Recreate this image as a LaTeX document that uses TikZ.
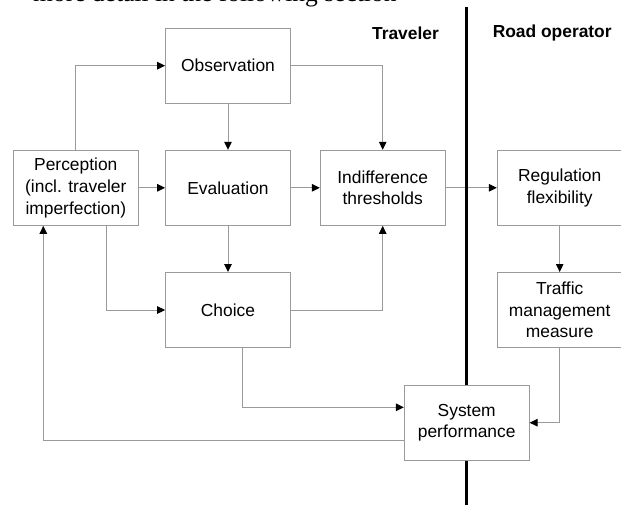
\documentclass[tikz,border=0pt]{standalone}
\usepackage{fontspec}
\setmainfont{Liberation Sans}
\newfontfamily\bodyserif{Liberation Serif}
\usetikzlibrary{arrows.meta}
\definecolor{linegray}{HTML}{9A9A9A}
\tikzset{
  box/.style={draw=linegray, line width=1pt, fill=white, minimum width=124.7pt, minimum height=75pt,
    inner sep=2pt, align=center, font=\fontsize{17.4}{21.7}\selectfont},
  head/.style={font=\fontsize{17.4}{21.7}\selectfont\bfseries, inner sep=0pt},
  conn/.style={draw=linegray, line width=1pt, -{Triangle[length=8pt,width=7.5pt,color=black]}},
  divider/.style={draw=black, line width=3pt}
}
\begin{document}
\begin{tikzpicture}[x=1pt,y=-1pt]
\useasboundingbox (0,0) rectangle (621,504);
% body text line above the figure, mostly cut off by the top edge
\node[anchor=north west, inner sep=0pt, font=\bodyserif\fontsize{25.5}{30}\selectfont] (bodytext) at (33,-16.6) {more detail in the following section};
% nodes
\node[box] (obs) at (228,65.7) {Observation};
\node[box] (perc) at (75.8,187.8) {Perception\\(incl. traveler\\imperfection)};
\node[box] (eval) at (228,187.8) {Evaluation};
\node[box] (ind) at (382.7,187.8) {Indifference\\thresholds};
\node[box] (choice) at (228,310) {Choice};
\node[box] (reg) at (559.7,187.8) {Regulation\\flexibility};
\node[box] (traf) at (559.7,310) {Traffic\\management\\measure};
\node[head] (trav) at (405.5,33.3) {Traveler};
\node[head] (road) at (552.2,33.3) {Road operator};
% connectors
\draw[conn] (perc.north) |- (obs.west);
\draw[conn] (perc.east) -- (eval.west);
\draw[conn] (obs.south) -- (eval.north);
\draw[conn] (obs.east) -| (ind.north);
\draw[conn] (eval.east) -- (ind.west);
\draw[conn] (eval.south) -- (choice.north);
\draw[conn] ([xshift=30.2pt]perc.south) |- (choice.west);
\draw[conn] (choice.east) -| (ind.south);
\draw[conn] (ind.east) -- (reg.west);
\draw[conn] (reg.south) -- (traf.north);
% divider
\coordinate (dtop) at (466.7,6.7);
\coordinate (dbot) at (466.7,506);
\draw[divider] (dtop) -- (dbot);
% system performance on top of divider
\node[box] (sys) at (466.7,422.7) {System\\performance};
\draw[conn] ([xshift=14.7pt]choice.south) |- ([yshift=15.4pt]sys.west);
\draw[conn] (traf.south) |- (sys.east);
\draw[conn] ([yshift=-17.3pt]sys.west) -| ([xshift=-32.5pt]perc.south);
\end{tikzpicture}
\end{document}
